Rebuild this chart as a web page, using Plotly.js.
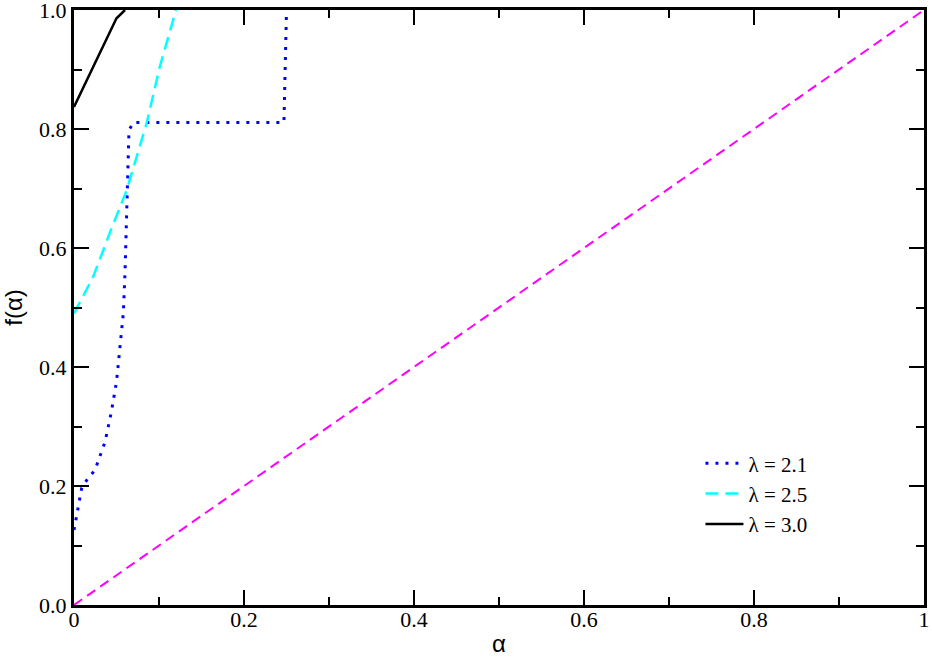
<!DOCTYPE html>
<html>
<head>
<meta charset="utf-8">
<script src="https://cdn.plot.ly/plotly-3.0.1.min.js"></script>
<style>
  html, body { margin: 0; padding: 0; background: #fff; overflow: hidden; }
  #plot { width: 932px; height: 657px; }
</style>
</head>
<body>
<div id="plot"></div>
<script>
// lambda = 2.1 (dotted blue)
var alpha21 = [0, 0.009, 0.015, 0.0247, 0.0365, 0.044, 0.050, 0.054, 0.058, 0.060, 0.062, 0.0647, 0.070, 0.247, 0.250];
var f21 = [0.126, 0.196, 0.21, 0.227, 0.274, 0.325, 0.375, 0.429, 0.49, 0.558, 0.681, 0.798, 0.811, 0.811, 1.0];

// lambda = 2.5 (dashed cyan)
var alpha25 = [0, 0.0227, 0.042, 0.062, 0.0855, 0.101, 0.12];
var f25 = [0.49, 0.552, 0.625, 0.697, 0.81, 0.905, 1.0];

// lambda = 3.0 (solid black)
var alpha30 = [0, 0.050, 0.060];
var f30 = [0.837, 0.986, 1.0];

// diagonal reference
var diagX = [0, 1];
var diagY = [0, 1];

var xTickVals = [0, 0.2, 0.4, 0.6, 0.8, 1];
var xTickText = ["0", "0.2", "0.4", "0.6", "0.8", "1"];
var yTickVals = [0, 0.2, 0.4, 0.6, 0.8, 1];
var yTickText = ["0.0", "0.2", "0.4", "0.6", "0.8", "1.0"];

var serif = "Liberation Serif, serif";
var sans = "Liberation Sans, sans-serif";

var data = [
  {
    x: alpha21, y: f21, mode: "lines", name: "λ = 2.1",
    line: { color: "#0000ff", width: 3, dash: "3px,7px" }
  },
  {
    x: alpha25, y: f25, mode: "lines", name: "λ = 2.5",
    line: { color: "#00ffff", width: 2.5, dash: "13px,7px" }
  },
  {
    x: alpha30, y: f30, mode: "lines", name: "λ = 3.0",
    line: { color: "#000000", width: 2.5 }
  },
  {
    x: diagX, y: diagY, mode: "lines", showlegend: false,
    line: { color: "#ff00ff", width: 2, dash: "10px,6px" }
  }
];

function axis(vals, text, title, standoff) {
  return {
    range: [0, 1],
    showgrid: false, zeroline: false,
    showline: true, linewidth: 3, linecolor: "#000", mirror: "allticks",
    ticks: "inside", ticklen: 15, tickwidth: 2, tickcolor: "#000",
    tickvals: vals, ticktext: text,
    ticklabeloverflow: "allow",
    ticklabelstandoff: standoff,
    minor: { ticks: "inside", dtick: 0.1, ticklen: 8, tickwidth: 2 },
    tickfont: { family: serif, size: 22, color: "#000" },
    title: { text: title, font: { family: sans, size: 24, color: "#000" } }
  };
}

var layout = {
  width: 932,
  height: 657,
  margin: { l: 74, r: 8, t: 10, b: 52 },
  showlegend: true,
  legend: {
    x: 0.737, y: 0.272, xanchor: "left", yanchor: "top",
    itemwidth: 38, bgcolor: "rgba(0,0,0,0)",
    font: { family: serif, size: 21, color: "#000" }
  },
  xaxis: axis(xTickVals, xTickText, "α", -7),
  yaxis: axis(yTickVals, yTickText, "f(α)", 0)
};

Plotly.newPlot("plot", data, layout, { displayModeBar: false });
</script>
</body>
</html>
